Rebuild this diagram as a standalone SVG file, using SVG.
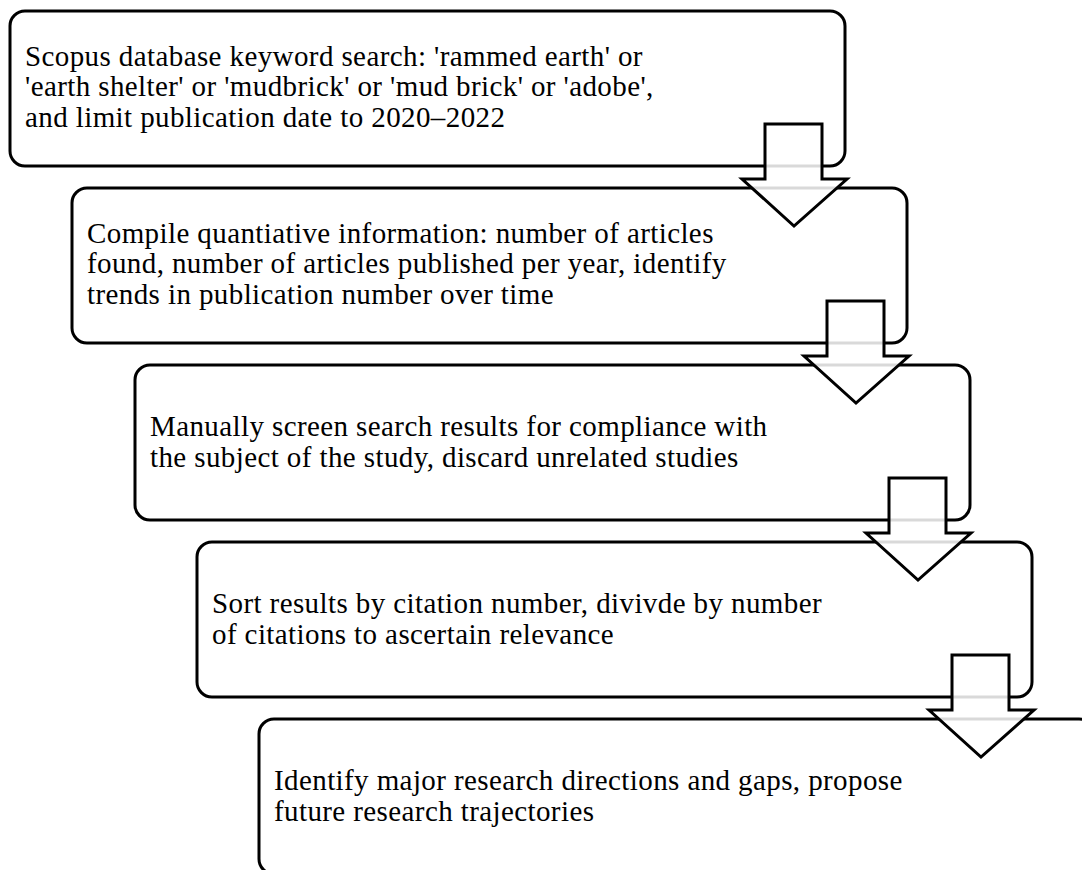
<svg xmlns="http://www.w3.org/2000/svg" width="1082" height="870" viewBox="0 0 1082 870">
<style>
.box{fill:#fff;stroke:#000;stroke-width:3}
.arr{fill:#fff;fill-opacity:0.85;stroke:#000;stroke-width:3;stroke-linejoin:miter}
.t{font-family:"Liberation Serif","Times New Roman",serif;font-size:29px;letter-spacing:0.4px;fill:#000}
</style>
<rect width="1082" height="870" fill="#fff"/>
<g id="node1"><rect class="box" x="10" y="11" width="835" height="155" rx="15"/>
<text class="t" x="25" y="66">Scopus database keyword search: 'rammed earth' or</text>
<text class="t" x="25" y="96">'earth shelter' or 'mudbrick' or 'mud brick' or 'adobe',</text>
<text class="t" x="25" y="127">and limit publication date to 2020–2022</text></g>
<g id="node2"><rect class="box" x="72" y="188" width="835" height="155" rx="15"/>
<text class="t" x="87" y="243">Compile quantiative information: number of articles</text>
<text class="t" x="87" y="273">found, number of articles published per year, identify</text>
<text class="t" x="87" y="304">trends in publication number over time</text></g>
<g id="node3"><rect class="box" x="135" y="365" width="835" height="155" rx="15"/>
<text class="t" x="150" y="436">Manually screen search results for compliance with</text>
<text class="t" x="150" y="467">the subject of the study, discard unrelated studies</text></g>
<g id="node4"><rect class="box" x="197" y="542" width="835" height="155" rx="15"/>
<text class="t" x="212" y="613">Sort results by citation number, divivde by number</text>
<text class="t" x="212" y="644">of citations to ascertain relevance</text></g>
<g id="node5"><rect class="box" x="259" y="719" width="835" height="155" rx="15"/>
<text class="t" x="274" y="790">Identify major research directions and gaps, propose</text>
<text class="t" x="274" y="821">future research trajectories</text></g>
<g id="connectors">
<polygon class="arr" points="765,124 822,124 822,179 847,179 794,226 742,179 765,179"/>
<polygon class="arr" points="827,301 884,301 884,356 909,356 856,403 804,356 827,356"/>
<polygon class="arr" points="889,478 946,478 946,533 971,533 918,580 866,533 889,533"/>
<polygon class="arr" points="952,655 1009,655 1009,710 1034,710 981,757 929,710 952,710"/>
</g>
</svg>
